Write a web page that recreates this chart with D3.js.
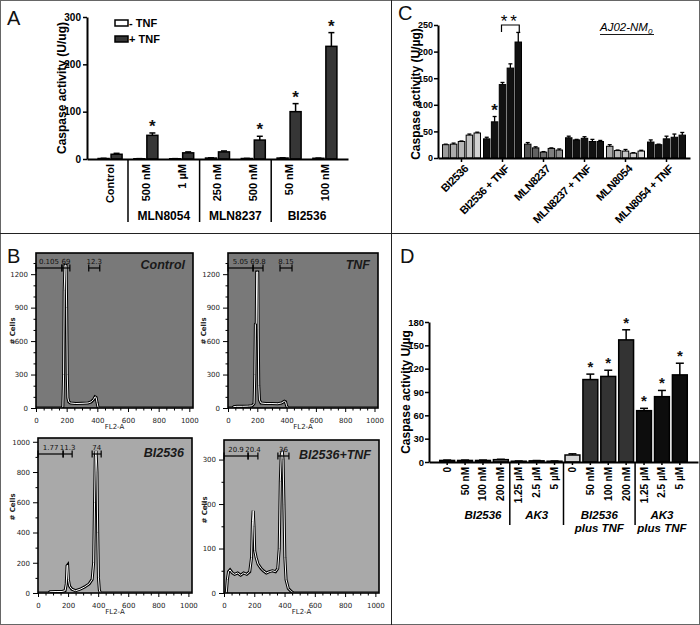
<!DOCTYPE html>
<html><head><meta charset="utf-8">
<script src="https://cdn.jsdelivr.net/npm/d3@7"></script>
<style>body{margin:0;background:#fff} svg{display:block}</style>
</head><body>
<svg id="fig" width="700" height="625"></svg>
<script>
// ================= DATA =================
// Panel A
const aCategories = ["Control","500 nM","1 µM","250 nM","500 nM","50 nM","100 nM"];
const aSeries = ["- TNF","+ TNF"];
const aMinusTNF = [1, 0.5, 0.5, 2, 1, 2, 1.5];
const aMinusErr = [0.5, 0.3, 0.3, 0.5, 0.3, 0.5, 0.4];
const aPlusTNF = [10, 50, 13, 15, 40, 100, 238];
const aPlusErr = [2, 5, 2, 2, 8, 17, 29];
const aSignificant = [false, true, false, false, true, true, true];
const aGroupNames = ["MLN8054","MLN8237","BI2536"];
const aGroupFrom = [1, 3, 5];
const aGroupTo = [2, 4, 6];
const aYTicks = [0, 100, 200, 300];

// Panel B (flow cytometry histograms: [FL2-A channel, # cells])
const bTitles = ["Control","TNF","BI2536","BI2536+TNF"];
const bYMax = [1390, 1390, 1025, 344];
const bYTicks = [[0,300,600,900,1200],[0,300,600,900,1200],[0,200,400,600,800,1000],[0,100,200,300]];
const bXTicks = [0,200,400,600,800,1000];
const bControl = [[0,0],[165,0],[175,10],[180,300],[184,1050],[189,1280],[196,1280],[200,900],[204,300],[208,90],[214,55],[225,45],[260,40],[300,42],[340,45],[360,55],[375,75],[385,100],[392,95],[398,50],[404,10],[410,0],[1024,0]];
const bTNF = [[0,0],[30,0],[40,12],[60,15],[100,15],[140,17],[165,20],[178,40],[183,300],[187,750],[193,760],[196,1220],[203,1220],[206,700],[210,200],[215,70],[225,45],[260,40],[300,40],[340,38],[365,45],[385,60],[393,55],[400,20],[408,0],[1024,0]];
const bBI2536 = [[0,0],[70,0],[80,8],[120,10],[160,10],[180,15],[188,60],[193,180],[197,185],[202,90],[210,45],[225,25],[250,15],[280,25],[310,40],[340,60],[360,90],[370,200],[376,600],[381,900],[386,940],[392,800],[397,400],[402,100],[408,20],[415,0],[1024,0]];
const bBI2536TNF = [[0,0],[15,0],[22,30],[30,48],[40,52],[55,45],[70,42],[90,45],[110,40],[130,45],[150,42],[170,48],[182,80],[188,160],[193,185],[198,150],[203,95],[212,80],[225,65],[245,55],[260,50],[280,45],[300,48],[320,50],[340,48],[355,55],[365,100],[372,250],[378,310],[385,320],[390,300],[396,200],[402,80],[410,30],[425,10],[445,3],[460,0],[1024,0]];
const bGateRanges = [
  [[0,169],[169,221],[344,416]],
  [[0,171],[171,239],[355,437]],
  [[0,167],[167,227],[360,420]],
  [[0,159],[159,224],[356,429]]
];
const bGateLabels = [["0.105","69","12.3"],["5.05","69.8","8.15"],["1.77","11.3","74"],["20.9","20.4","36"]];

// Panel C
const cGroups = ["BI2536","BI2536 + TNF","MLN8237","MLN8237 + TNF","MLN8054","MLN8054 + TNF"];
const cValues = [[25,26,31,43,47],[36,68,138,169,218],[26,19,11,18,15],[38,34,37,31,31],[22,14,13,9,13],[30,25,36,39,43]];
const cErrors = [[1,2,1,2,1.5],[3,10,4,8,18],[3,2,1,1,2],[3,1,3,4,2],[3,1,3,1,1.5],[4,1,5,6,5]];
const cYTicks = [0,50,100,150,200,250];

// Panel D
const dLabels = ["0","50 nM","100 nM","200 nM","1.25 µM","2.5 µM","5 µM","0","50 nM","100 nM","200 nM","1.25 µM","2.5 µM","5 µM"];
const dValues = [2,2,2,3,1,1.5,1,9,106,110,157,66,84,112];
const dErrors = [0.5,0.5,0.5,0.5,0.3,0.4,0.3,1.5,7,8,13,3,8,15];
const dSignificant = [false,false,false,false,false,false,false,false,true,true,true,true,true,true];
const dGroupLine1 = ["BI2536","AK3","BI2536","AK3"];
const dGroupLine2 = ["","","plus TNF","plus TNF"];
const dGroupFrom = [0,4,7,11];
const dGroupTo = [3,6,10,13];
const dYTicks = [0,30,60,90,120,150,180];

// ================= STYLE =================
const FONT = "'Liberation Sans', Arial, sans-serif";
const cColors = [
  ["#9c9c9c","#ababab","#b6b6b6","#c4c4c4","#d2d2d2"],
  ["#111","#111","#111","#111","#111"],
  ["#555","#626262","#707070","#7e7e7e","#8e8e8e"],
  ["#111","#111","#111","#111","#111"],
  ["#a8a8a8","#b8b8b8","#c4c4c4","#d0d0d0","#dcdcdc"],
  ["#111","#111","#111","#111","#111"]
];
const dColors = ["#777","#777","#777","#777","#777","#777","#777","#d4d4d4","#333","#333","#333","#0d0d0d","#0d0d0d","#0d0d0d"];

const svg = d3.select("#fig").style("font-family", FONT);

// outer frame and dividers
svg.append("rect").attr("x",0.5).attr("y",0.5).attr("width",699).attr("height",624)
  .attr("fill","none").attr("stroke","#666").attr("stroke-width",1);
svg.append("line").attr("x1",0).attr("x2",700).attr("y1",233.5).attr("y2",233.5).attr("stroke","#222");
svg.append("line").attr("x1",391.5).attr("x2",391.5).attr("y1",0).attr("y2",625).attr("stroke","#222");

// panel letters
[["A",7,25],["B",7,263],["C",398,20],["D",400,263]].forEach(([t,x,y]) =>
  svg.append("text").attr("x",x).attr("y",y).attr("font-size",20).attr("fill","#111").text(t));

function styleAxis(g, fs, bold=true, sw=2) {
  g.selectAll("path.domain").attr("stroke","#000").attr("stroke-width",sw);
  g.selectAll(".tick line").attr("stroke","#000").attr("stroke-width",Math.max(1,sw-0.5));
  g.selectAll(".tick text").attr("font-size",fs).attr("font-family",FONT)
    .attr("font-weight",bold?"bold":"normal").attr("fill","#000");
}
function star(g, x, y, size) {
  g.append("text").attr("x",x).attr("y",y).attr("text-anchor","middle")
    .attr("font-size",size).attr("font-weight","bold").attr("fill","#111").text("*");
}

// ================= PANEL A =================
(function(){
  const g = svg.append("g");
  const y = d3.scaleLinear().domain([0,300]).range([159,17]);
  const x = d3.scaleBand().domain(d3.range(aCategories.length)).range([87,348]).paddingOuter(0.145).paddingInner(0);
  const xin = d3.scaleBand().domain(aSeries).range([-12,12]).paddingInner(0.15);
  const series = [aMinusTNF, aPlusTNF];
  const errs = [aMinusErr, aPlusErr];
  const fills = ["#fff","#363636"];
  aCategories.forEach((c,i) => {
    const cx = x(i) + x.bandwidth()/2;
    aSeries.forEach((s,j) => {
      const v = series[j][i], e = errs[j][i];
      const bx = cx + xin(s), bw = xin.bandwidth(), mid = bx + bw/2;
      g.append("line").attr("x1",mid).attr("x2",mid).attr("y1",y(v)).attr("y2",y(v+e)).attr("stroke","#000").attr("stroke-width",1.5);
      g.append("line").attr("x1",mid-3).attr("x2",mid+3).attr("y1",y(v+e)).attr("y2",y(v+e)).attr("stroke","#000").attr("stroke-width",1.5);
      g.append("rect").attr("x",bx).attr("y",y(v)).attr("width",bw).attr("height",Math.max(0.5,y(0)-y(v)))
        .attr("fill",fills[j]).attr("stroke","#000").attr("stroke-width",1.5);
      if (j===1 && aSignificant[i]) star(g, mid, y(v+e)-1, 17);
    });
  });
  const ya = g.append("g").attr("transform","translate(87,0)")
    .call(d3.axisLeft(y).tickValues(aYTicks).tickSize(4).tickSizeOuter(0).tickPadding(2));
  styleAxis(ya, 10);
  const xa = g.append("g").attr("transform","translate(0,159)")
    .call(d3.axisBottom(x).tickSize(0).tickSizeOuter(0).tickFormat(""));
  styleAxis(xa, 10);
  aCategories.forEach((c,i) => {
    g.append("text").attr("transform",`translate(${x(i)+x.bandwidth()/2},164) rotate(-90)`)
      .attr("dy","0.35em").attr("text-anchor","end").attr("font-size",11).attr("font-weight","bold").text(c);
  });
  for (let k=0;k<aGroupNames.length;k++){
    const sx = x(aGroupFrom[k]) ;
    g.append("line").attr("x1",sx).attr("x2",sx).attr("y1",159).attr("y2",222).attr("stroke","#000").attr("stroke-width",1.5);
    const gx = (x(aGroupFrom[k]) + x(aGroupTo[k]) + x.bandwidth())/2;
    g.append("text").attr("x",gx).attr("y",220).attr("text-anchor","middle").attr("font-size",12).attr("font-weight","bold").text(aGroupNames[k]);
  }
  g.append("text").attr("transform","translate(66,88) rotate(-90)").attr("text-anchor","middle")
    .attr("font-size",12).attr("font-weight","bold").text("Caspase activity (U/ug)");
  aSeries.forEach((s,j)=>{
    const ly = 20 + j*16;
    g.append("rect").attr("x",115).attr("y",ly).attr("width",13).attr("height",6).attr("fill",fills[j]).attr("stroke","#000").attr("stroke-width",1.5);
    g.append("text").attr("x",129).attr("y",ly+7).attr("font-size",11).attr("font-weight","bold").text(s);
  });
})();

// ================= PANEL B =================
const bData = [bControl, bTNF, bBI2536, bBI2536TNF];
const bLayout = [
  {x0:36, x1:193, yT:253, yB:408, bg:"#797979", ylx:13, yly:331, minor:100},
  {x0:228, x1:378, yT:253, yB:408, bg:"#797979", ylx:204, yly:331, minor:100},
  {x0:38, x1:192, yT:438, yB:593, bg:"#a9a9a9", ylx:13, yly:507, minor:100},
  {x0:224, x1:379, yT:440, yB:593, bg:"#a9a9a9", ylx:205, yly:510, minor:50}
];
bLayout.forEach((L,k) => {
  const g = svg.append("g");
  const x = d3.scaleLinear().domain([0,1024]).range([L.x0,L.x1]);
  const y = d3.scaleLinear().domain([0,bYMax[k]]).range([L.yB,L.yT]);
  const cid = "fclip"+k;
  svg.append("clipPath").attr("id",cid).append("rect").attr("x",L.x0).attr("y",L.yT).attr("width",L.x1-L.x0).attr("height",L.yB-L.yT);
  g.append("rect").attr("x",L.x0).attr("y",L.yT).attr("width",L.x1-L.x0).attr("height",L.yB-L.yT).attr("fill",L.bg);
  const line = d3.line().x(d=>x(d[0])).y(d=>y(d[1]));
  g.append("path").datum(bData[k]).attr("d",line).attr("fill","none").attr("stroke","#000").attr("stroke-width",3).attr("clip-path",`url(#${cid})`);
  g.append("path").datum(bData[k]).attr("d",line).attr("fill","none").attr("stroke","#fff").attr("stroke-width",1).attr("clip-path",`url(#${cid})`);
  g.append("rect").attr("x",L.x0).attr("y",L.yT).attr("width",L.x1-L.x0).attr("height",L.yB-L.yT).attr("fill","none").attr("stroke","#000").attr("stroke-width",1.6);
  const yMinor = d3.range(0, bYMax[k], L.minor).filter(v => !bYTicks[k].includes(v));
  const xMinor = d3.range(0, 1024, 50).filter(v => !bXTicks.includes(v));
  const ym = g.append("g").attr("transform",`translate(${L.x0},0)`).call(d3.axisLeft(y).tickValues(yMinor).tickSize(2.5).tickSizeOuter(0).tickFormat(""));
  const xm = g.append("g").attr("transform",`translate(0,${L.yB})`).call(d3.axisBottom(x).tickValues(xMinor).tickSize(2.5).tickSizeOuter(0).tickFormat(""));
  [ym,xm].forEach(a=>{a.select("path.domain").remove(); a.selectAll(".tick line").attr("stroke","#000");});
  const ya = g.append("g").attr("transform",`translate(${L.x0},0)`).call(d3.axisLeft(y).tickValues(bYTicks[k]).tickSize(5).tickSizeOuter(0).tickPadding(3).tickFormat(d3.format("d")));
  const xa = g.append("g").attr("transform",`translate(0,${L.yB})`).call(d3.axisBottom(x).tickValues(bXTicks).tickSize(4).tickSizeOuter(0).tickPadding(6).tickFormat(d3.format("d")));
  [ya,xa].forEach(a=>{
    a.select("path.domain").remove();
    a.selectAll(".tick line").attr("stroke","#000");
    a.selectAll(".tick text").attr("font-size",7).attr("font-family","'DejaVu Sans', sans-serif").attr("fill","#222");
  });
  g.append("text").attr("x",(L.x0+L.x1)/2).attr("y",L.yB+21).attr("text-anchor","middle")
    .attr("font-size",7).attr("font-family","'DejaVu Sans', sans-serif").attr("fill","#222").text("FL2-A");
  g.append("text").attr("transform",`translate(${L.ylx},${L.yly}) rotate(-90)`).attr("text-anchor","middle").attr("dy","0.35em")
    .attr("font-size",7).attr("font-weight","bold").attr("font-family","'DejaVu Sans', sans-serif").attr("fill","#222").text("# Cells");
  const gy = L.yT + (k<2 ? 15 : 16);
  bGateRanges[k].forEach((r,j) => {
    const a = x(r[0]), b = x(r[1]);
    g.append("line").attr("x1",a).attr("x2",b).attr("y1",gy).attr("y2",gy).attr("stroke","#000").attr("stroke-width",1.2);
    [a,b].forEach(p => g.append("line").attr("x1",p).attr("x2",p).attr("y1",gy-3.5).attr("y2",gy+3.5).attr("stroke","#000").attr("stroke-width",1.2));
    g.append("text").attr("x",(a+b)/2).attr("y",gy-4).attr("text-anchor","middle")
      .attr("font-size",7).attr("font-family","'DejaVu Sans', sans-serif").attr("fill","#111").text(bGateLabels[k][j]);
  });
  g.append("text").attr("x",L.x1-8).attr("y",L.yT+(k<2?16:19)).attr("text-anchor","end")
    .attr("font-size",12.5).attr("font-weight","bold").attr("font-style","italic").attr("fill","#1a1a1a").text(bTitles[k]);
});

// ================= PANEL C =================
(function(){
  const g = svg.append("g");
  const y = d3.scaleLinear().domain([0,250]).range([158,25]);
  const x = d3.scaleBand().domain(cGroups).range([438,690]).paddingOuter(0.073).paddingInner(0);
  const xin = d3.scaleBand().domain(d3.range(5)).range([-19,19]).paddingInner(0.18);
  cGroups.forEach((grp,i) => {
    const cx = x(grp) + x.bandwidth()/2;
    cValues[i].forEach((v,j) => {
      const e = cErrors[i][j];
      const bx = cx + xin(j), bw = xin.bandwidth(), mid = bx + bw/2;
      g.append("line").attr("x1",mid).attr("x2",mid).attr("y1",y(v)).attr("y2",y(v+e)).attr("stroke","#000").attr("stroke-width",1.3);
      g.append("line").attr("x1",mid-2).attr("x2",mid+2).attr("y1",y(v+e)).attr("y2",y(v+e)).attr("stroke","#000").attr("stroke-width",1.3);
      g.append("rect").attr("x",bx).attr("y",y(v)).attr("width",bw).attr("height",y(0)-y(v))
        .attr("fill",cColors[i][j]).attr("stroke","#000").attr("stroke-width",1);
    });
  });
  const c2 = x(cGroups[1]) + x.bandwidth()/2;
  star(g, c2 + xin(1) + xin.bandwidth()/2, y(cValues[1][1]+cErrors[1][1]) - 1, 17);
  const b0 = c2 + xin(2) + xin.bandwidth()/2, b1 = c2 + xin(4) + xin.bandwidth()/2;
  g.append("path").attr("d",`M${b0-1},32 V25 H${b1+1} V32`).attr("fill","none").attr("stroke","#000").attr("stroke-width",1.2);
  g.append("text").attr("x",(b0+b1)/2).attr("y",27).attr("text-anchor","middle").attr("font-size",17).attr("letter-spacing",3).text("**");
  const ya = g.append("g").attr("transform","translate(438,0)")
    .call(d3.axisLeft(y).tickValues(cYTicks).tickSize(4).tickSizeOuter(0).tickPadding(1));
  styleAxis(ya, 9);
  const xa = g.append("g").attr("transform","translate(0,158)")
    .call(d3.axisBottom(x).tickSize(4).tickSizeOuter(0).tickFormat(""));
  styleAxis(xa, 9);
  cGroups.forEach(grp => {
    g.append("text").attr("transform",`translate(${x(grp)+x.bandwidth()/2+2},164) rotate(-45)`)
      .attr("dy","0.7em").attr("text-anchor","end").attr("font-size",11).attr("font-weight","bold").attr("letter-spacing",-0.4).text(grp);
  });
  g.append("text").attr("transform","translate(420,94) rotate(-90)").attr("text-anchor","middle")
    .attr("font-size",12).attr("font-weight","bold").text("Caspase activity (U/µg)");
  const t = g.append("text").attr("x",600).attr("y",31).attr("font-size",11.5).attr("font-style","italic");
  t.append("tspan").text("AJ02-NM");
  t.append("tspan").attr("dy",3).attr("font-size",8).text("0");
  g.append("line").attr("x1",600).attr("x2",654).attr("y1",34.5).attr("y2",34.5).attr("stroke","#000").attr("stroke-width",0.9);
})();

// ================= PANEL D =================
(function(){
  const g = svg.append("g");
  const y = d3.scaleLinear().domain([0,180]).range([462,322]);
  const x = d3.scaleBand().domain(d3.range(dLabels.length)).range([429,698]).paddingInner(0.17).paddingOuter(0.6);
  dValues.forEach((v,i) => {
    const e = dErrors[i], bx = x(i), bw = x.bandwidth(), mid = bx + bw/2;
    g.append("line").attr("x1",mid).attr("x2",mid).attr("y1",y(v)).attr("y2",y(v+e)).attr("stroke","#000").attr("stroke-width",1.5);
    g.append("line").attr("x1",mid-4).attr("x2",mid+4).attr("y1",y(v+e)).attr("y2",y(v+e)).attr("stroke","#000").attr("stroke-width",1.5);
    g.append("rect").attr("x",bx).attr("y",y(v)).attr("width",bw).attr("height",y(0)-y(v))
      .attr("fill",dColors[i]).attr("stroke","#000").attr("stroke-width",1.5);
    if (dSignificant[i]) star(g, mid, y(v+e)-2, 15);
  });
  const ya = g.append("g").attr("transform","translate(429,0)")
    .call(d3.axisLeft(y).tickValues(dYTicks).tickSize(4).tickSizeOuter(0).tickPadding(1));
  styleAxis(ya, 9.5);
  const xa = g.append("g").attr("transform","translate(0,462)")
    .call(d3.axisBottom(x).tickSize(3).tickSizeOuter(0).tickFormat(""));
  styleAxis(xa, 9);
  dLabels.forEach((l,i) => {
    g.append("text").attr("transform",`translate(${x(i)+x.bandwidth()/2},467) rotate(-90)`)
      .attr("dy","0.35em").attr("text-anchor","end").attr("font-size",10).attr("font-weight","bold").text(l);
  });
  for (let k=0;k<dGroupLine1.length;k++){
    if (k>0) {
      const sx = (x(dGroupFrom[k]-1) + x.bandwidth() + x(dGroupFrom[k]))/2;
      g.append("line").attr("x1",sx).attr("x2",sx).attr("y1",462).attr("y2",525).attr("stroke","#000").attr("stroke-width",1.5);
    }
    const from = k===0 ? dGroupFrom[k]+1 : dGroupFrom[k];
    const gx = (x(from) + x(dGroupTo[k]) + x.bandwidth())/2;
    g.append("text").attr("x",gx).attr("y",519).attr("text-anchor","middle").attr("font-size",11.5)
      .attr("font-weight","bold").attr("font-style","italic").text(dGroupLine1[k]);
    if (dGroupLine2[k]) g.append("text").attr("x",gx).attr("y",532).attr("text-anchor","middle").attr("font-size",11.5)
      .attr("font-weight","bold").attr("font-style","italic").text(dGroupLine2[k]);
  }
  g.append("text").attr("transform","translate(410,392) rotate(-90)").attr("text-anchor","middle")
    .attr("font-size",12).attr("font-weight","bold").text("Caspase activity U/µg");
})();
</script>
</body></html>
